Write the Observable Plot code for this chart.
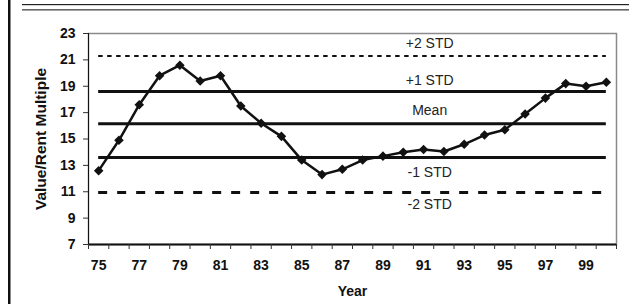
<!DOCTYPE html>
<html>
<head>
<meta charset="utf-8">
<script src="https://cdn.jsdelivr.net/npm/d3@7"></script>
<script src="https://cdn.jsdelivr.net/npm/@observablehq/plot@0.6"></script>
<style>
  html, body { margin: 0; padding: 0; background: #fff; }
  svg { display: block; }
</style>
</head>
<body>
<div id="chart"></div>
<script>
const years = d3.range(75, 101);
const multiples = [12.6, 14.9, 17.6, 19.8, 20.6, 19.4, 19.8, 17.5, 16.2, 15.2, 13.4, 12.3, 12.7, 13.4, 13.7, 14.0, 14.2, 14.05, 14.6, 15.3, 15.7, 16.9, 18.1, 19.2, 19.0, 19.3];
const refNames = ["+2 STD", "+1 STD", "Mean", "-1 STD", "-2 STD"];
const refValues = [21.3, 18.6, 16.15, 13.6, 10.95];
const yTicks = [7, 9, 11, 13, 15, 17, 19, 21, 23];
const xTickLabels = [75, 77, 79, 81, 83, 85, 87, 89, 91, 93, 95, 97, 99];

const series = years.map((y, i) => ({year: y, value: multiples[i]}));
const refs = refNames.map((n, i) => ({name: n, value: refValues[i]}));
const labelDy = {"+2 STD": -12, "+1 STD": -11, "Mean": -13, "-1 STD": 15, "-2 STD": 12};
const refStyle = {
  "+2 STD": {strokeWidth: 2, strokeDasharray: "4.5,4.5"},
  "+1 STD": {strokeWidth: 3},
  "Mean": {strokeWidth: 3},
  "-1 STD": {strokeWidth: 3},
  "-2 STD": {strokeWidth: 3, strokeDasharray: "9,10"}
};
const xMin = years[0] - 0.5, xMax = years[years.length - 1] + 0.5;

const chart = Plot.plot({
  width: 629,
  height: 305,
  marginLeft: 88,
  marginRight: 13,
  marginTop: 33,
  marginBottom: 61,
  style: {fontFamily: "'Liberation Sans', Arial, sans-serif", background: "#fff", color: "#111"},
  x: {domain: [xMin, xMax]},
  y: {domain: [7, 23]},
  marks: [
    Plot.frame({stroke: "#8a8a8a", strokeWidth: 1.5}),
    ...refs.map(r => Plot.ruleY([r], {y: "value", x1: years[0], x2: years[years.length - 1], stroke: "#111", ...refStyle[r.name]})),
    ...refs.map(r => Plot.text([r], {x: 91.3, y: "value", text: "name", dy: labelDy[r.name], fontSize: 14, fill: "#222"})),
    Plot.ruleX([xMin], {stroke: "#111", strokeWidth: 1}),
    Plot.ruleY([7], {stroke: "#111", strokeWidth: 2}),
    Plot.axisY({ticks: yTicks, tickSize: 5, tickPadding: 8, fontSize: 14, fontWeight: "bold", label: null, stroke: "#333"}),
    Plot.axisX({ticks: d3.range(xMin, xMax + 0.01, 1), tickSize: 5, tickFormat: () => "", label: null, stroke: "#333"}),
    Plot.axisX({ticks: xTickLabels, tickSize: 0, tickPadding: 16, fontSize: 14, fontWeight: "bold", label: null, tickFormat: d => String(d)}),
    Plot.line(series, {x: "year", y: "value", stroke: "#111", strokeWidth: 2.5}),
    Plot.dot(series, {x: "year", y: "value", symbol: "diamond2", r: 4.3, fill: "#111", stroke: "none"}),
    Plot.text(["Value/Rent Multiple"], {frameAnchor: "left", textAnchor: "middle", dx: -47, rotate: -90, fontSize: 15.5, fontWeight: "bold", fill: "#111"}),
    Plot.text(["Year"], {frameAnchor: "bottom", dy: 51, fontSize: 14, fontWeight: "bold", fill: "#111"})
  ]
});

// page decorations: left border bar and top double rule
const svg = d3.select(chart);
svg.append("rect").attr("x", 8).attr("y", 0).attr("width", 2.5).attr("height", 304).attr("fill", "#111");
svg.append("rect").attr("x", 22).attr("y", 4).attr("width", 607).attr("height", 1.2).attr("fill", "#222");
svg.append("rect").attr("x", 22).attr("y", 9).attr("width", 607).attr("height", 1.6).attr("fill", "#666");
document.getElementById("chart").appendChild(chart);
</script>
</body>
</html>
